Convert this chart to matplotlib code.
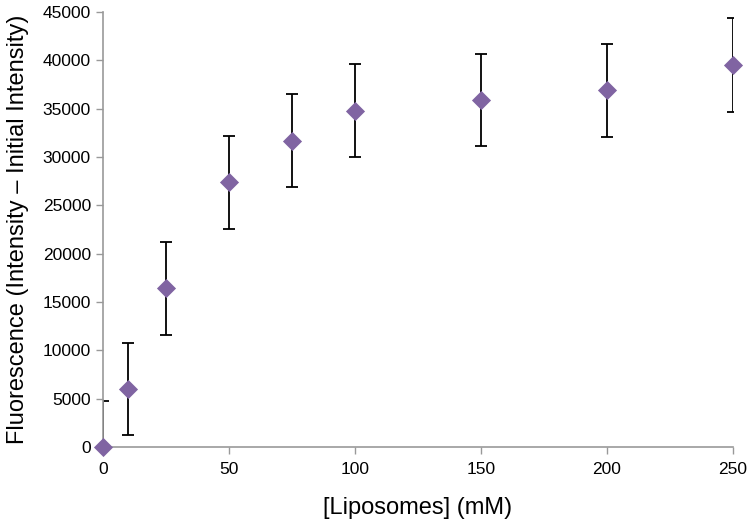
import matplotlib
matplotlib.use("Agg")
import matplotlib.pyplot as plt

conc = [0, 10, 25, 50, 75, 100, 150, 200, 250]
fluor = [0, 6000, 16400, 27400, 31700, 34800, 35900, 36900, 39500]
err = [4800, 4800, 4800, 4800, 4800, 4800, 4800, 4800, 4850]

plt.rcParams['font.family'] = ['Liberation Sans', 'DejaVu Sans']

fig = plt.figure(figsize=(7.5, 5.24), dpi=100)
ax = fig.add_axes([0.137, 0.147, 0.840, 0.830])

eb = ax.errorbar(conc, fluor, yerr=err, fmt='none', ecolor='black', elinewidth=1.3,
                 capsize=4, capthick=1.3, zorder=2)
ax.scatter(conc, fluor, marker='D', s=95, color='#8064A2', zorder=3, clip_on=False,
           linewidths=0)

ax.set_xlim(0, 250)
ax.set_ylim(0, 45000)
ax.set_xticks([0, 50, 100, 150, 200, 250])
ax.set_yticks(range(0, 45001, 5000))
for s in ['top', 'right']:
    ax.spines[s].set_visible(False)
for s in ['left', 'bottom']:
    ax.spines[s].set_color('#999999')
    ax.spines[s].set_linewidth(1.2)
ax.tick_params(axis='both', colors='#999999', labelcolor='black', labelsize=12.5,
               length=5, width=1)
ax.tick_params(axis='x', pad=6)
ax.set_xlabel('[Liposomes] (mM)', fontsize=17, labelpad=14)
ax.set_ylabel('Fluorescence (Intensity \u2013 Initial Intensity)', fontsize=17, labelpad=10)

fig.savefig('out.png', dpi=100)
